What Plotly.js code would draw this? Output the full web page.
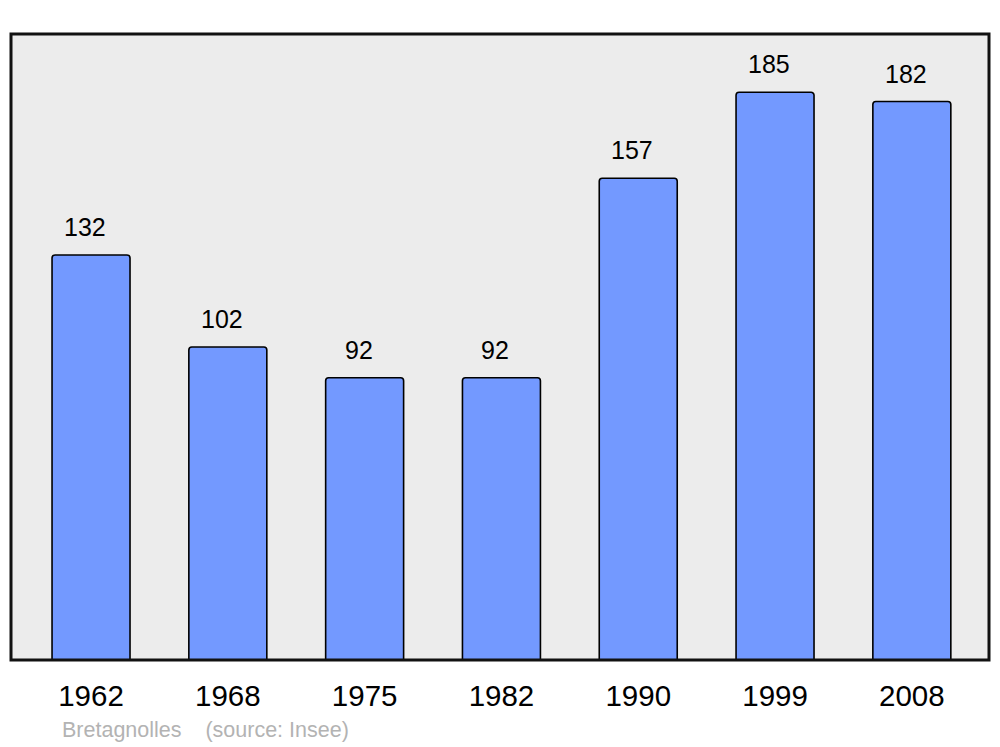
<!DOCTYPE html>
<html><head><meta charset="utf-8">
<script src="https://cdn.plot.ly/plotly-3.0.1.min.js"></script>
<style>body{margin:0;background:#fff}#c{width:1000px;height:747px}</style>
</head><body><div id="c"></div>
<script>
const years = ['1962','1968','1975','1982','1990','1999','2008'];
const population = [132,102,92,92,157,185,182];
const sourceText = 'Bretagnolles\u00a0\u00a0\u00a0\u00a0(source: Insee)';

const trace = {
  type:'bar', x: years, y: population,
  width: 0.57,
  marker:{color:'#7399ff', line:{color:'#000', width:1.6}, cornerradius:3},
  hoverinfo:'none'
};
const annotations = years.map((yr,i)=>({
  x: i, y: population[i], xref:'x', yref:'y', text: String(population[i]),
  showarrow:false, yanchor:'bottom', yshift:12, xshift:-6,
  font:{family:'Liberation Sans, Arial, sans-serif', size:25, color:'#000'}
}));
annotations.push({
  xref:'paper', yref:'paper', x:0.0505, y:-0.09, xanchor:'left', yanchor:'top',
  text: sourceText, showarrow:false,
  font:{family:'Liberation Sans, Arial, sans-serif', size:21.5, color:'#b3b3b3'}
});
const layout = {
  width:1000, height:747,
  margin:{l:11, r:11, t:34, b:87},
  paper_bgcolor:'#fff', plot_bgcolor:'#ececec',
  showlegend:false,
  xaxis:{type:'category', range:[-0.585, 6.564], showgrid:false, zeroline:false,
    showline:false, ticks:'', ticklabelstandoff:15,
    tickfont:{family:'Liberation Sans, Arial, sans-serif', size:29.5, color:'#000'}},
  yaxis:{range:[0,204], showgrid:false, zeroline:false, showticklabels:false, showline:false, ticks:''},
  shapes:[{type:'rect', xref:'paper', yref:'paper', x0:0, x1:1, y0:0, y1:1,
    line:{color:'#111', width:3}, layer:'above'}],
  annotations
};
Plotly.newPlot('c',[trace],layout,{staticPlot:true});
</script></body></html>
